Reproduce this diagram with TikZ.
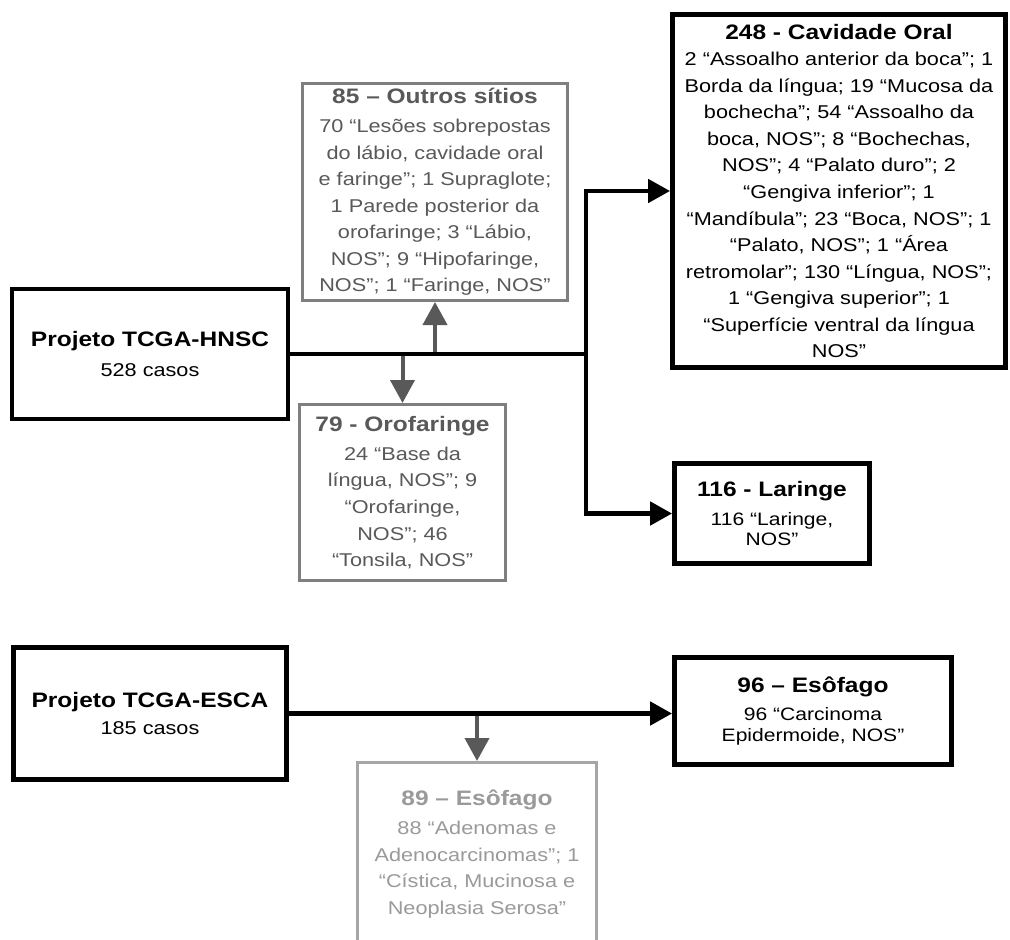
\documentclass[tikz,border=0pt]{standalone}
\usepackage{fontspec}
\setmainfont[FakeStretch=1.17]{Liberation Sans}
\usetikzlibrary{arrows.meta}
\definecolor{inkgray}{HTML}{595959}
\definecolor{edgegray}{HTML}{7F7F7F}
\definecolor{faintedge}{HTML}{A6A6A6}
\definecolor{faintink}{HTML}{9A9A9A}
\newcommand{\boxtitle}[1]{{\fontsize{15.7}{19}\selectfont\bfseries #1}}
\tikzset{
  projbox/.style={draw=black, line width=3.6pt, fill=white, align=center, inner sep=0pt},
  graybox/.style={projbox, draw=edgegray, line width=2.25pt, text=inkgray},
  faintbox/.style={projbox, draw=faintedge, line width=2.25pt, text=faintink},
  tightbox/.style={projbox, font=\fontsize{13.5}{15.5}\selectfont},
  link/.style={line width=3.6pt},
  linkarrow/.style={link, -{Triangle[length=16.5pt, width=17.25pt]}},
  grayarrow/.style={draw=inkgray, line width=3pt, -{Triangle[length=17.25pt, width=18pt]}},
}

\begin{document}
\begin{tikzpicture}[x=0.75pt, y=-0.75pt, font=\fontsize{13.9}{19.9}\selectfont]
  \useasboundingbox (0,0) rectangle (1010,939);
  \node[projbox, minimum width=207pt, minimum height=97.5pt] (hnsc) at (150,354)
    {\boxtitle{Projeto TCGA-HNSC}\\[2pt] 528 casos};
  \node[graybox, minimum width=198.75pt, minimum height=162.75pt] (outros) at (435,192)
    {\boxtitle{85 – Outros sítios}\\[2pt]
     70 “Lesões sobrepostas\\ do lábio, cavidade oral\\ e faringe”; 1 Supraglote;\\
     1 Parede posterior da\\ orofaringe; 3 “Lábio,\\ NOS”; 9 “Hipofaringe,\\
     NOS”; 1 “Faringe, NOS”};
  \node[graybox, minimum width=154.5pt, minimum height=132pt] (oro) at (402.5,492.5)
    {\boxtitle{79 - Orofaringe}\\[2pt]
     24 “Base da\\ língua, NOS”; 9\\ “Orofaringe,\\ NOS”; 46\\ “Tonsila, NOS”};
  \node[projbox, minimum width=249.75pt, minimum height=264.75pt] (oral) at (839,191)
    {\boxtitle{248 - Cavidade Oral}\\
     2 “Assoalho anterior da boca”; 1\\ Borda da língua; 19 “Mucosa da\\
     bochecha”; 54 “Assoalho da\\ boca, NOS”; 8 “Bochechas,\\
     NOS”; 4 “Palato duro”; 2\\ “Gengiva inferior”; 1\\
     “Mandíbula”; 23 “Boca, NOS”; 1\\ “Palato, NOS”; 1 “Área\\
     retromolar”; 130 “Língua, NOS”;\\ 1 “Gengiva superior”; 1\\
     “Superfície ventral da língua\\ NOS”};
  \node[tightbox, minimum width=146.25pt, minimum height=75pt] (laringe) at (772,513.5)
    {\boxtitle{116 - Laringe}\\[6pt] 116 “Laringe,\\ NOS”};
  \node[projbox, minimum width=204.75pt, minimum height=99pt] (esca) at (150,713.5)
    {\boxtitle{Projeto TCGA-ESCA}\\[1pt] 185 casos};
  \node[tightbox, minimum width=207.75pt, minimum height=80.25pt] (esof96) at (813,711)
    {\boxtitle{96 – Esôfago}\\[6pt] 96 “Carcinoma\\ Epidermoide, NOS”};
  \node[faintbox, minimum width=179.25pt, minimum height=137.25pt] (esof89) at (477,854)
    {\boxtitle{89 – Esôfago}\\[2pt]
     88 “Adenomas e\\ Adenocarcinomas”; 1\\ “Cística, Mucinosa e\\ Neoplasia Serosa”};
  \coordinate (fork) at (586,354);
  \draw[grayarrow] (outros.south |- fork) -- (outros.south);
  \draw[grayarrow] (oro.north |- fork) -- (oro.north);
  \draw[grayarrow] (esof89.north |- esca.east) -- (esof89.north);
  \draw[link] (hnsc.east) -- (fork);
  \draw[linkarrow] (fork) |- (oral.west);
  \draw[linkarrow] (fork) |- (laringe.west);
  \draw[linkarrow] (esca.east) -- (esca.east -| esof96.west);
\end{tikzpicture}
\end{document}
